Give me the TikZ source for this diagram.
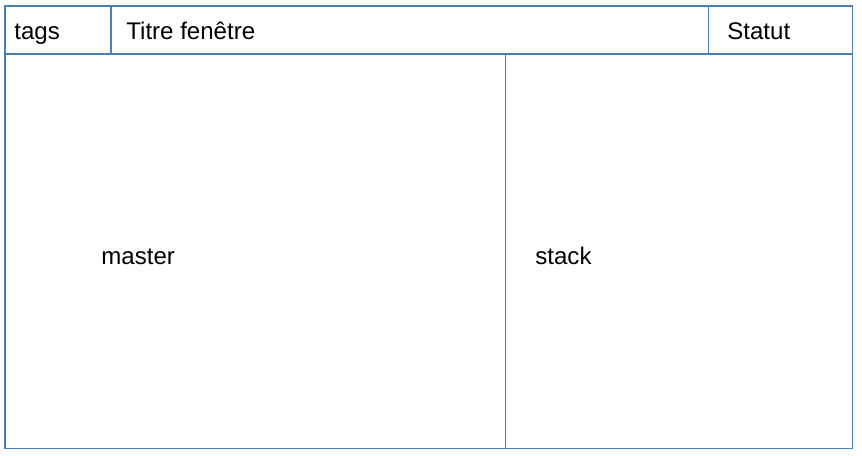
\documentclass[tikz,border=0pt]{standalone}
\usepackage{fontspec}
\setmainfont{Liberation Sans}
\usetikzlibrary{positioning}
\definecolor{framecol}{HTML}{4A7EBB}
\tikzset{
	cell/.style = {rectangle, draw=framecol, line width=0.6pt, anchor=north west, inner sep=0pt, outer sep=0pt},
	label/.style = {anchor=base west, inner sep=0pt, font=\fontsize{13.7pt}{16pt}\selectfont}
}
\begin{document}
\begin{tikzpicture}[x=0.02cm, y=-0.02cm]
	\useasboundingbox (0,0) rectangle (862,456);
	% top bar
	\node (Tags) [cell, minimum width=2.12cm, minimum height=0.96cm] at (5,6) {};
	\node (Titre) [cell, minimum width=11.96cm, minimum height=0.96cm, right = 0pt of Tags.north east, anchor=north west] {};
	\node (Statut) [cell, minimum width=2.88cm, minimum height=0.96cm, right = 0pt of Titre.north east, anchor=north west] {};
	% workspace
	\node (Master) [cell, minimum width=10.02cm, minimum height=7.9cm] at (5,54) {};
	\node (Stack) [cell, minimum width=6.94cm, minimum height=7.9cm, right = 0pt of Master.north east, anchor=north west] {};
	% texts
	\node (TagsText) [label] at (14,39.5) {tags};
	\node (TitreText) [label] at (126,39.5) {Titre fenêtre};
	\node (StatutText) [label] at (727,39.5) {Statut};
	\node (MasterText) [label] at (101,264.5) {master};
	\node (StackText) [label] at (535,264.5) {stack};
\end{tikzpicture}
\end{document}
